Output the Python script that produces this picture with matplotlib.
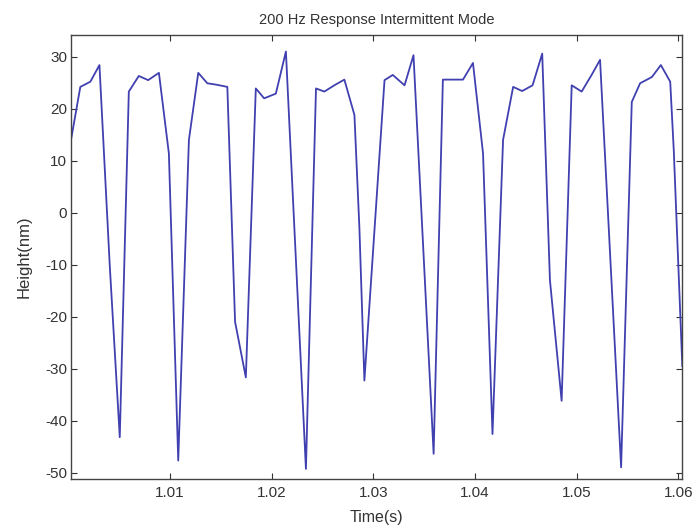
import matplotlib
matplotlib.use("Agg")
import matplotlib.pyplot as plt

# values
time_s = [1.0003, 1.00119, 1.00218, 1.00307, 1.00408, 1.00507, 1.00596,
          1.00694, 1.00786, 1.00892, 1.00990, 1.01082, 1.01187, 1.01279,
          1.01368, 1.01464, 1.01565, 1.01641, 1.01747, 1.01845, 1.01927,
          1.02042, 1.02141, 1.02338, 1.02437, 1.02519, 1.02617, 1.02716,
          1.02815, 1.02864, 1.02913, 1.03111, 1.03192, 1.03308, 1.03396,
          1.03594, 1.03685, 1.03781, 1.03883, 1.03981, 1.04080, 1.04173,
          1.04277, 1.04376, 1.04465, 1.04567, 1.04662, 1.04738, 1.04853,
          1.04952, 1.05050, 1.05142, 1.05231, 1.05438, 1.05543, 1.05625,
          1.05741, 1.05829, 1.05921, 1.05956, 1.0604]
height_nm = [14.3, 24.2, 25.2, 28.4, -10.0, -43.2, 23.3,
             26.3, 25.5, 26.9, 11.4, -47.7, 14.0, 26.9,
             24.9, 24.6, 24.2, -21.0, -31.7, 23.9, 22.0,
             22.9, 31.0, -49.3, 23.9, 23.3, 24.5, 25.6,
             18.8, -3.0, -32.3, 25.5, 26.5, 24.5, 30.3,
             -46.4, 25.6, 25.6, 25.6, 28.8, 11.4, -42.6,
             14.0, 24.2, 23.4, 24.5, 30.6, -13.0, -36.2,
             24.5, 23.3, 26.3, 29.4, -49.0, 21.3, 24.9,
             26.1, 28.4, 25.2, 12.0, -29.5]

x_ticks = [1.01, 1.02, 1.03, 1.04, 1.05, 1.06]
y_ticks = [-50, -40, -30, -20, -10, 0, 10, 20, 30]

plt.rcParams['font.family'] = ['Liberation Sans', 'DejaVu Sans']
plt.rcParams['axes.unicode_minus'] = False

txt = "#333333"

fig = plt.figure(figsize=(6.92, 5.29), dpi=100)
ax = fig.add_axes([0.103, 0.094, 0.883, 0.840])

ax.plot(time_s, height_nm, color="#4040b0", linewidth=1.3)

ax.set_xlim(time_s[0], time_s[-1])
ax.set_ylim(-51.3, 34.2)
ax.set_xticks(x_ticks)
ax.set_xticklabels([f"{v:.2f}" for v in x_ticks])
ax.set_yticks(y_ticks)
ax.tick_params(direction="in", top=True, right=True, length=4,
               labelsize=11, color="#333333", labelcolor=txt)
ax.tick_params(axis="x", pad=5)
ax.tick_params(axis="y", pad=3)
for s in ax.spines.values():
    s.set_color("#444444")
    s.set_linewidth(1.0)

ax.set_title("200 Hz Response Intermittent Mode", fontsize=10.5, color=txt, pad=8)
ax.set_xlabel("Time(s)", fontsize=11.5, color=txt, labelpad=7)
ax.set_ylabel("Height(nm)", fontsize=12, color=txt, labelpad=10)

fig.savefig("out.png", dpi=100)
